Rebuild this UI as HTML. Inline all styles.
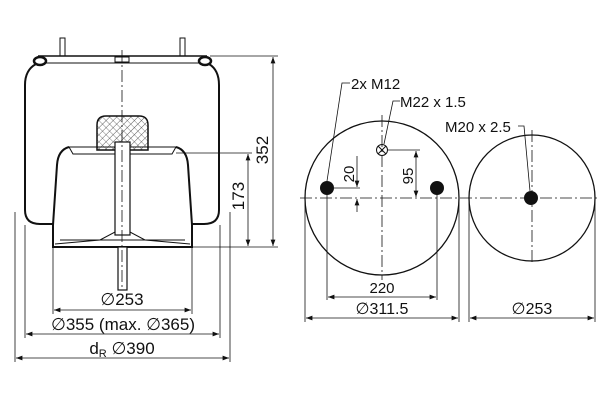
<!DOCTYPE html>
<html><head><style>body{margin:0;background:#fff}svg{display:block}text{font-family:"Liberation Sans",sans-serif;fill:#111}.d{font-family:"DejaVu Sans",sans-serif;font-weight:normal}</style></head><body>
<svg width="600" height="400" viewBox="0 0 600 400" xmlns="http://www.w3.org/2000/svg">
<defs>
<pattern id="h" width="5" height="5" patternUnits="userSpaceOnUse" patternTransform="rotate(45)"><line x1="0" y1="0" x2="0" y2="5" stroke="#333" stroke-width="0.8"/><line x1="0" y1="0" x2="5" y2="0" stroke="#333" stroke-width="0.6"/></pattern>
<marker id="a" markerWidth="8" markerHeight="6" refX="8" refY="3" orient="auto-start-reverse"><path d="M0,0 L8,3 L0,6 z" fill="#111"/></marker>
</defs>
<g stroke="#111" fill="none" stroke-width="1.5">
<rect x="60" y="38" width="5" height="18" fill="#fff" stroke-width="1"/>
<rect x="180" y="38" width="5" height="18" fill="#fff" stroke-width="1"/>
<line x1="38" y1="56" x2="207" y2="56"/>
<line x1="45" y1="63" x2="200" y2="63" stroke-width="1"/>
<rect x="115" y="57" width="14" height="5" stroke-width="1"/>
<ellipse cx="40" cy="61" rx="6" ry="4" stroke-width="2.5"/>
<ellipse cx="205" cy="61" rx="6" ry="4" stroke-width="2.5"/>
<path d="M36,64 Q25,70 25,85 L25,210 Q25,224 40,224 L53,224" stroke-width="2"/>
<path d="M209,64 Q219,70 219,85 L219,210 Q219,224 204,224 L192,224" stroke-width="2"/>
<path d="M69,147 Q58,150 57,165 L53,225 L53,247 L192,247 L192,225 L188,165 Q187,150 176,147" stroke-width="2"/>
<path d="M69,147 L176,147 L172,154 L73,154 Z" stroke-width="1"/>
<path d="M55,244 L100,240 L115,232 L130,232 L145,240 L190,244" stroke-width="1"/>
<line x1="60" y1="240" x2="185" y2="240" stroke-width="1"/>
<path d="M97,150 L97,125 Q97,116 106,116 L139,116 Q148,116 148,125 L148,150 Z" fill="url(#h)" stroke-width="1.5"/>
<rect x="115" y="142" width="15" height="93" fill="#fff" stroke-width="1.2"/>
<rect x="118" y="247" width="9" height="43" fill="#fff" stroke-width="1.2"/>
</g>
<g stroke="#111" stroke-width="0.8" fill="none">
<line x1="122" y1="50" x2="122" y2="290" stroke-dasharray="12,3,2,3"/>
<line x1="210" y1="56" x2="278" y2="56"/>
<line x1="176" y1="153" x2="252" y2="153"/>
<line x1="192" y1="247" x2="278" y2="247"/>
<line x1="273" y1="57" x2="273" y2="246" marker-start="url(#a)" marker-end="url(#a)"/>
<line x1="248" y1="154" x2="248" y2="246" marker-start="url(#a)" marker-end="url(#a)"/>
<line x1="15" y1="212" x2="15" y2="362"/><line x1="230" y1="212" x2="230" y2="362"/>
<line x1="25" y1="225" x2="25" y2="338"/><line x1="220" y1="225" x2="220" y2="338"/>
<line x1="53" y1="248" x2="53" y2="314"/><line x1="192" y1="248" x2="192" y2="314"/>
<line x1="54" y1="310" x2="191" y2="310" marker-start="url(#a)" marker-end="url(#a)"/>
<line x1="26" y1="334" x2="219" y2="334" marker-start="url(#a)" marker-end="url(#a)"/>
<line x1="16" y1="358" x2="229" y2="358" marker-start="url(#a)" marker-end="url(#a)"/>
</g>
<text x="122" y="305" font-size="17" text-anchor="middle"><tspan class="d">∅</tspan>253</text>
<text x="123" y="330" font-size="17" text-anchor="middle"><tspan class="d">∅</tspan>355 (max. <tspan class="d">∅</tspan>365)</text>
<text x="122" y="354" font-size="17" text-anchor="middle">d<tspan font-size="11" dy="3">R</tspan><tspan dy="-3"> </tspan><tspan class="d">∅</tspan>390</text>
<text transform="translate(268,150) rotate(-90)" font-size="17" text-anchor="middle">352</text>
<text transform="translate(244,196) rotate(-90)" font-size="17" text-anchor="middle">173</text>

<g stroke="#111" fill="none">
<circle cx="382" cy="198" r="77" stroke-width="1.3"/>
<circle cx="532" cy="198" r="63" stroke-width="1.3"/>
<g stroke-width="0.8" stroke-dasharray="12,3,2,3">
<line x1="300" y1="198" x2="598" y2="198"/>
<line x1="382" y1="115" x2="382" y2="280"/>
<line x1="532" y1="130" x2="532" y2="265"/>
</g>
<circle cx="382" cy="150" r="5.5" stroke-width="1"/>
<line x1="378" y1="146" x2="386" y2="154" stroke-width="1"/><line x1="386" y1="146" x2="378" y2="154" stroke-width="1"/>
</g>
<circle cx="327" cy="188" r="7" fill="#111"/>
<circle cx="437" cy="188" r="7" fill="#111"/>
<circle cx="531" cy="198" r="7" fill="#111"/>
<g stroke="#111" stroke-width="0.8" fill="none">
<polyline points="327,181 342,83 350,83"/>
<polyline points="384,144 393,101 400,101"/>
<polyline points="530,191 524,126 518,126"/>
<line x1="388" y1="150" x2="420" y2="150"/>
<line x1="416" y1="151" x2="416" y2="197" marker-start="url(#a)" marker-end="url(#a)"/>
<line x1="334" y1="188" x2="360" y2="188"/>
<line x1="357" y1="156" x2="357" y2="187" marker-end="url(#a)"/>
<line x1="357" y1="212" x2="357" y2="199" marker-end="url(#a)"/>
<line x1="327" y1="195" x2="327" y2="300"/><line x1="437" y1="195" x2="437" y2="300"/>
<line x1="328" y1="297" x2="436" y2="297" marker-start="url(#a)" marker-end="url(#a)"/>
<line x1="305" y1="200" x2="305" y2="322"/><line x1="459" y1="200" x2="459" y2="322"/>
<line x1="469" y1="200" x2="469" y2="322"/><line x1="595" y1="200" x2="595" y2="322"/>
<line x1="306" y1="318" x2="458" y2="318" marker-start="url(#a)" marker-end="url(#a)"/>
<line x1="470" y1="318" x2="594" y2="318" marker-start="url(#a)" marker-end="url(#a)"/>
</g>
<text x="351" y="89" font-size="15">2x M12</text>
<text x="400" y="107" font-size="15">M22 x 1.5</text>
<text x="445" y="132" font-size="15">M20 x 2.5</text>
<text transform="translate(413,176) rotate(-90)" font-size="15" text-anchor="middle">95</text>
<text transform="translate(354,174) rotate(-90)" font-size="15" text-anchor="middle">20</text>
<text x="382" y="293" font-size="15" text-anchor="middle">220</text>
<text x="382" y="314" font-size="16" text-anchor="middle"><tspan class="d">∅</tspan>311.5</text>
<text x="532" y="314" font-size="16" text-anchor="middle"><tspan class="d">∅</tspan>253</text>
</svg>
</body></html>
